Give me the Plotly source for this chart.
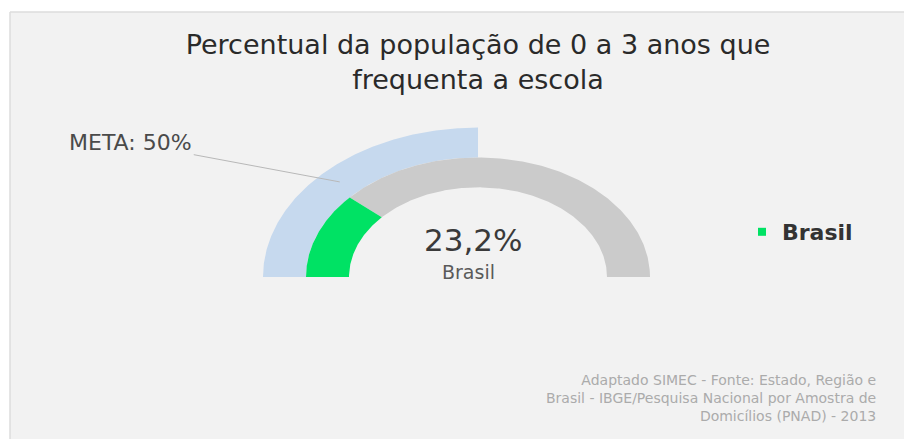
import numpy as np
import plotly.graph_objects as go

# ---- data ----
category = "Brasil"
value = 23.2          # % of population aged 0-3 attending school
meta = 50.0           # target %
title_lines = ["Percentual da população de 0 a 3 anos que", "frequenta a escola"]
source_lines = ["Adaptado SIMEC - Fonte: Estado, Região e",
                "Brasil - IBGE/Pesquisa Nacional por Amostra de",
                "Domicílios (PNAD) - 2013"]

# ---- geometry / style ----
W, H = 904, 439
CX, CY = 478, 277          # gauge centre in pixels
SQ = 0.695                 # vertical squash of the gauge
R_IN, R_MID, R_OUT = 129, 172, 215
GREEN = "#00e264"
GREY = "#cbcbcb"
BLUE = "#c6d9ee"
BG = "#f2f2f2"


def pct_to_deg(p):
    return 180.0 - p * 1.8


def ring(a0, a1, r0, r1, n=200):
    t = np.radians(np.linspace(a0, a1, n))
    xs = np.concatenate([r1 * np.cos(t), r0 * np.cos(t[::-1])])
    ys = np.concatenate([r1 * np.sin(t), r0 * np.sin(t[::-1])])
    return np.append(xs, xs[0]), np.append(ys, ys[0])


fig = go.Figure()

x, y = ring(pct_to_deg(0), pct_to_deg(meta), R_MID, R_OUT)
fig.add_trace(go.Scatter(x=x, y=y, fill="toself", fillcolor=BLUE, mode="lines",
                         line=dict(width=0, color=BLUE), hoverinfo="skip", showlegend=False))
x, y = ring(pct_to_deg(value), pct_to_deg(100), R_IN, R_MID)
fig.add_trace(go.Scatter(x=x, y=y, fill="toself", fillcolor=GREY, mode="lines",
                         line=dict(width=0, color=GREY), hoverinfo="skip", showlegend=False))
x, y = ring(pct_to_deg(0), pct_to_deg(value), R_IN, R_MID)
fig.add_trace(go.Scatter(x=x, y=y, fill="toself", fillcolor=GREEN, mode="lines",
                         line=dict(width=0, color=GREEN), hoverinfo="skip", showlegend=False))
# legend entry
fig.add_trace(go.Scatter(x=[None], y=[None], mode="markers", name=category,
                         marker=dict(symbol="square", size=8, color=GREEN)))

value_txt = f"{value:.1f}".replace(".", ",") + "%"
meta_txt = f"META: {meta:.0f}%"

# leader-line target on the meta ring
ang = np.radians(135.3)
rr = (R_MID + R_OUT) / 2 + 1
tx, ty = rr * np.cos(ang), rr * np.sin(ang)

annotations = [
    dict(x=-5, y=(CY - 240) / SQ, xref="x", yref="y", text=value_txt, showarrow=False,
         font=dict(family="DejaVu Sans", size=31, color="#3a3a3a")),
    dict(x=-10, y=(CY - 272) / SQ, xref="x", yref="y", text=category, showarrow=False,
         font=dict(family="DejaVu Sans", size=19, color="#5a5a5a")),
    dict(x=tx, y=ty, xref="x", yref="y", text=meta_txt, showarrow=True,
         arrowhead=0, arrowwidth=1, arrowcolor="#b8b8b8", ax=-209, ay=-39,
         font=dict(family="DejaVu Sans", size=22, color="#4a4a4a")),
    dict(x=878 / W, y=1 - 398 / H, xref="paper", yref="paper", xanchor="right", yanchor="middle",
         text="<br>".join(source_lines), showarrow=False, align="right",
         font=dict(family="DejaVu Sans", size=14, color="#ababab")),
]

fig.update_layout(
    width=W, height=H,
    margin=dict(l=0, r=0, t=0, b=0),
    paper_bgcolor="white", plot_bgcolor="rgba(0,0,0,0)",
    xaxis=dict(range=[-CX, W - CX], visible=False, fixedrange=True),
    yaxis=dict(range=[(CY - H) / SQ, CY / SQ], visible=False, fixedrange=True),
    title=dict(text="<br>".join(title_lines), x=CX / W, xanchor="center",
               y=1 - 54 / H, yanchor="middle",
               font=dict(family="DejaVu Sans", size=27, color="#2a2a2a")),
    legend=dict(x=742 / W, y=1 - 232 / H, xanchor="left", yanchor="middle",
                bgcolor="rgba(0,0,0,0)",
                font=dict(family="DejaVu Sans", size=22, color="#333333", weight="bold")),
    showlegend=True,
    annotations=annotations,
    shapes=[
        dict(type="rect", xref="paper", yref="paper", x0=10 / W, x1=1.01, y0=-0.01, y1=1 - 12 / H,
             fillcolor=BG, line=dict(width=0), layer="below"),
        dict(type="line", xref="paper", yref="paper", x0=10 / W, x1=1.01, y0=1 - 12 / H, y1=1 - 12 / H,
             line=dict(width=1.5, color="#dcdcdc"), layer="below"),
        dict(type="line", xref="paper", yref="paper", x0=10 / W, x1=10 / W, y0=-0.01, y1=1 - 12 / H,
             line=dict(width=1.5, color="#dcdcdc"), layer="below"),
    ],
)

fig.write_html("out.html")
